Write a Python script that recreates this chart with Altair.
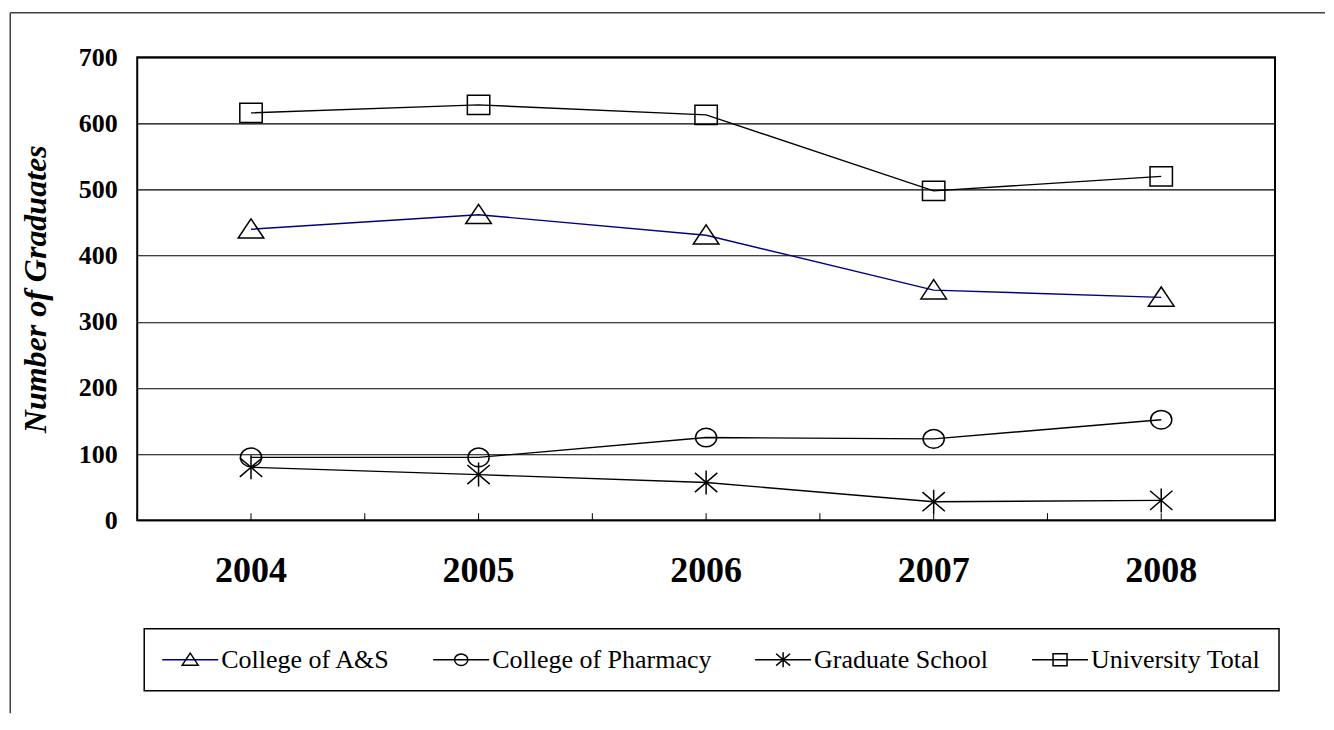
import altair as alt
import pandas as pd

# ---- data ----
years = ["2004", "2005", "2006", "2007", "2008"]
series_names = ["College of A&S", "College of Pharmacy", "Graduate School", "University Total"]
arts_sciences = [440, 462, 431, 348, 337]
pharmacy = [95, 95, 125, 123, 152]
graduate_school = [80, 69, 57, 28, 30]
university_total = [616, 628, 613, 498, 520]
y_ticks = [0, 100, 200, 300, 400, 500, 600, 700]

# ---- styles ----
line_colors = ["#000080", "#000000", "#000000", "#000000"]
SPAN = "M-2.8,0M2.8,0"  # invisible horizontal extent (keeps legend layouts identical)
marker_paths = [
    SPAN + "M0,-0.65L0.8,0.55L-0.8,0.55Z",  # triangle
    SPAN + "M0.66,0A0.66,0.58,0,1,1,-0.66,0A0.66,0.58,0,1,1,0.66,0Z",  # circle
    SPAN + "M0,-0.75V0.75M-0.7,-0.6L0.7,0.6M-0.7,0.6L0.7,-0.6",  # asterisk
    SPAN + "M-0.7,-0.6H0.7V0.6H-0.7Z",  # square
]

rows = []
for name, vals in zip(series_names, [arts_sciences, pharmacy, graduate_school, university_total]):
    for yr, v in zip(years, vals):
        rows.append({"year": yr, "series": name, "graduates": v})
df = pd.DataFrame(rows)
year_df = pd.DataFrame({"year": years})

W, H = 1138, 463
FONT = "Liberation Serif"

x_scale = alt.Scale(type="band", domain=years, paddingInner=0, paddingOuter=0)
y_scale = alt.Scale(domain=[0, 700], nice=False)

x_axis = alt.Axis(title=None, labelAngle=0, labelFont=FONT, labelFontSize=36,
                  labelFontWeight="bold", labelColor="black", labelPadding=33,
                  ticks=False, tickSize=0, domain=False, grid=False)
y_axis = alt.Axis(title="Number of Graduates", values=y_ticks,
                  titleFont=FONT, titleFontSize=32, titleFontWeight="bold",
                  titleFontStyle="italic", titleColor="black", titlePadding=26,
                  labelFont=FONT, labelFontSize=26, labelFontWeight="bold",
                  labelColor="black", labelPadding=20, ticks=False, tickSize=0,
                  domain=False, grid=True, gridColor="black", gridWidth=1.2)

common_legend = dict(title=None, orient="none", legendX=7, legendY=571.5,
                     direction="horizontal", symbolSize=400, symbolStrokeWidth=1.5,
                     symbolOffset=15, labelOffset=18, labelFont=FONT, labelFontSize=26,
                     labelLimit=400, columnPadding=40, padding=18)

lines = alt.Chart(df).mark_line(strokeWidth=1.4).encode(
    x=alt.X("year:N", scale=x_scale, axis=x_axis),
    y=alt.Y("graduates:Q", scale=y_scale, axis=y_axis),
    color=alt.Color("series:N",
                    scale=alt.Scale(domain=series_names, range=line_colors),
                    legend=alt.Legend(symbolType="M-2.8,0H2.8", labelColor="black",
                                      strokeColor="black", **common_legend)),
)

points = alt.Chart(df).mark_point(filled=False, size=1024, strokeWidth=1.5,
                                  color="black", opacity=1).encode(
    x=alt.X("year:N", scale=x_scale, axis=x_axis),
    y=alt.Y("graduates:Q", scale=y_scale, axis=y_axis),
    shape=alt.Shape("series:N", scale=alt.Scale(range=marker_paths),
                    legend=alt.Legend(labelOpacity=0, **common_legend)),
)

ticks_mid = alt.Chart(year_df).mark_rule(color="black", strokeWidth=1).encode(
    x=alt.X("year:N", scale=x_scale, axis=x_axis),
    y=alt.value(H), y2=alt.value(H - 7),
)
ticks_edge = alt.Chart(year_df).mark_rule(color="black", strokeWidth=1).encode(
    x=alt.X("year:N", scale=x_scale, axis=x_axis, bandPosition=0),
    y=alt.value(H), y2=alt.value(H - 7),
)

frame_top = alt.Chart(alt.Data(values=[{}])).mark_rule(color="#404040", strokeWidth=1.5).encode(
    x=alt.value(-127), x2=alt.value(1188), y=alt.value(-44.5)
)
frame_left = alt.Chart(alt.Data(values=[{}])).mark_rule(color="#404040", strokeWidth=1.5).encode(
    x=alt.value(-127), y=alt.value(-44.5), y2=alt.value(656)
)

chart = alt.layer(frame_top, frame_left, lines, points, ticks_mid, ticks_edge).properties(
    width=W, height=H,
    padding={"left": 1.25, "top": 3.25, "right": 0, "bottom": 0},
    background="white",
).configure_view(stroke="black", strokeWidth=2).configure_legend(strokeWidth=1.5)

chart.save("out.html", embed_options={"renderer": "svg", "actions": False})
